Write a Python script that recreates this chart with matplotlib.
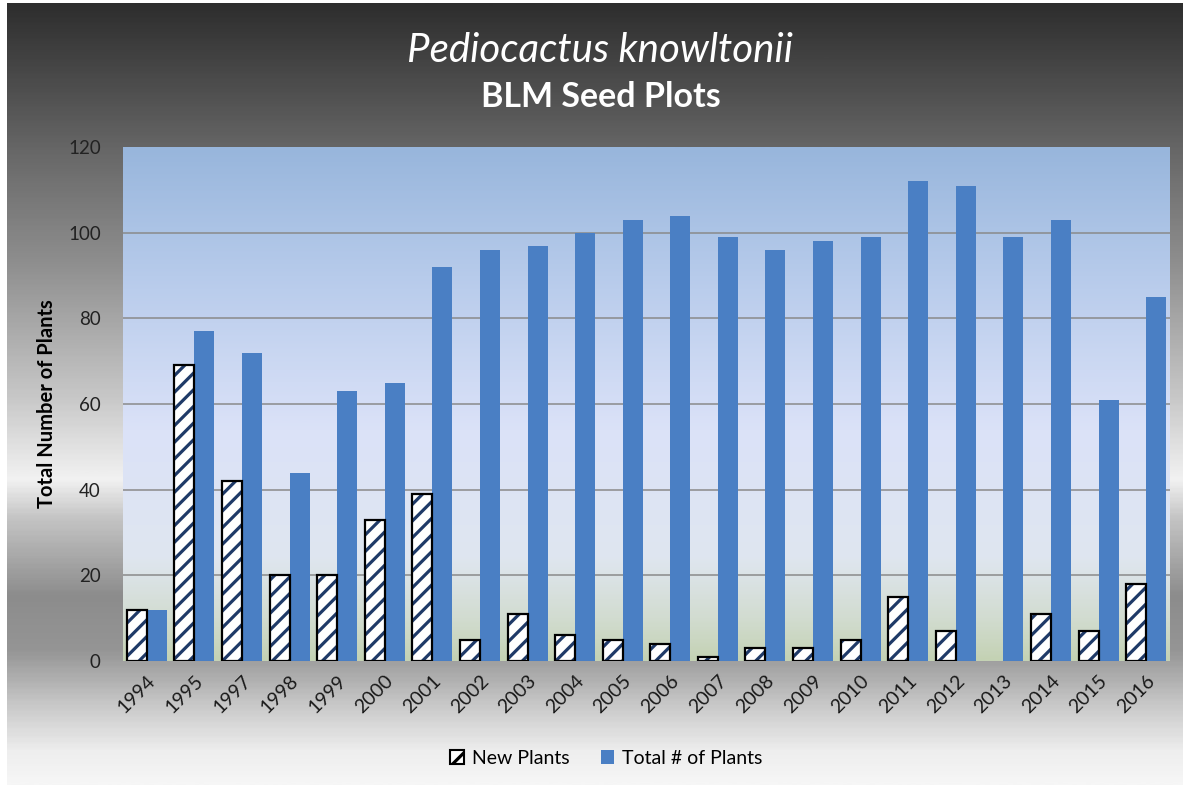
import numpy as np
import matplotlib
matplotlib.use('Agg')
import matplotlib.pyplot as plt
from matplotlib.colors import LinearSegmentedColormap
from matplotlib.patches import Patch

# --- dados ---
anos = ['1994', '1995', '1997', '1998', '1999', '2000', '2001', '2002', '2003', '2004', '2005',
        '2006', '2007', '2008', '2009', '2010', '2011', '2012', '2013', '2014', '2015', '2016']
novas = [12, 69, 42, 20, 20, 33, 39, 5, 11, 6, 5, 4, 1, 3, 3, 5, 15, 7, 0, 11, 7, 18]
total = [12, 77, 72, 44, 63, 65, 92, 96, 97, 100, 103, 104, 99, 96, 98, 99, 112, 111, 99, 103, 61, 85]
y_ticks = [0, 20, 40, 60, 80, 100, 120]

plt.rcParams['font.family'] = ['Lato', 'DejaVu Sans']
plt.rcParams['hatch.linewidth'] = 2.3

W, H = 1189, 788
fig = plt.figure(figsize=(W / 100, H / 100), dpi=100)
fig.patch.set_facecolor('white')

# fundo metalico da area do grafico
bg = fig.add_axes([7 / W, 3 / H, 1176 / W, 782 / H], zorder=-5)
stops = [(0.0, '#2e2e2e'), (0.13, '#555555'), (0.19, '#686868'), (0.33, '#8e8e8e'),
         (0.50, '#c6c6c6'), (0.61, '#f2f2f2'), (0.66, '#c4c4c4'), (0.76, '#8c8c8c'),
         (0.83, '#959595'), (0.90, '#c8c8c8'), (0.96, '#eeeeee'), (1.0, '#f6f6f6')]
cmap_bg = LinearSegmentedColormap.from_list('bg', stops)
bg.imshow(np.linspace(0, 1, 400).reshape(-1, 1), cmap=cmap_bg, aspect='auto',
          extent=[0, 1, 0, 1], origin='upper')
bg.set_axis_off()

# area de plotagem
ax = fig.add_axes([123 / W, 1 - 661 / H, (1170 - 123) / W, (661 - 147) / H])
n = len(anos)
x = np.arange(n)
xmin, xmax = -0.5, n - 0.5

stops_pa = [(0.0, '#98b6dc'), (0.25, '#b7cbeb'), (0.55, '#dbe2f8'), (0.80, '#dfe6f0'),
            (0.92, '#d2dcd0'), (1.0, '#c4d2b4')]
cmap_pa = LinearSegmentedColormap.from_list('pa', stops_pa)
ax.imshow(np.linspace(0, 1, 300).reshape(-1, 1), cmap=cmap_pa, aspect='auto',
          extent=[xmin, xmax, 0, 120], origin='upper', zorder=0)

for t in y_ticks[1:-1]:
    ax.axhline(t, color='#8a8a8a', lw=1.1, zorder=1)

w = 0.42
ax.bar(x - w / 2, novas, width=w, color='white', edgecolor='#1f3a68', hatch='//',
       linewidth=0, zorder=2)
# contorno preto (sem contorno quando o valor e zero)
ax.bar(x - w / 2, novas, width=w, fill=False, edgecolor='black',
       linewidth=[1.6 if v > 0 else 0 for v in novas], zorder=3)
ax.bar(x + w / 2, total, width=w, color='#4a7fc4', linewidth=0, zorder=2)

ax.set_xlim(xmin, xmax)
ax.set_ylim(0, 120)
ax.set_yticks(y_ticks)
ax.set_yticklabels([str(v) for v in y_ticks], fontsize=13.5, color='#222222')
ax.set_xticks(x)
ax.set_xticklabels(anos, rotation=45, ha='right', rotation_mode='anchor',
                   fontsize=14, color='#1a1a1a')
ax.tick_params(axis='y', length=0, pad=16)
ax.tick_params(axis='x', length=0, pad=8)
for s in ax.spines.values():
    s.set_visible(False)
ax.set_ylabel('Total Number of Plants', fontsize=14.5, fontweight='bold', labelpad=8)

# titulo
fig.text(0.505, 1 - 50 / H, 'Pediocactus knowltonii', ha='center', va='center',
         fontsize=29, style='italic', color='white')
fig.text(0.505, 1 - 97 / H, 'BLM Seed Plots', ha='center', va='center',
         fontsize=24.5, fontweight='bold', color='white')

# legenda
handles = [Patch(facecolor='white', edgecolor='#1f3a68', hatch='//', linewidth=0),
           Patch(facecolor='#4a7fc4', linewidth=0)]
leg = fig.legend(handles, ['New Plants', 'Total # of Plants'], loc='center',
                 bbox_to_anchor=(0.51, 1 - 758 / H), ncol=2, frameon=False,
                 fontsize=14, handlelength=0.7, handleheight=0.7, handletextpad=0.4,
                 columnspacing=1.6)
leg.legend_handles[0].set_edgecolor('black')
leg.legend_handles[0].set_linewidth(1.5)

fig.savefig('out.png', dpi=100, facecolor='white')
